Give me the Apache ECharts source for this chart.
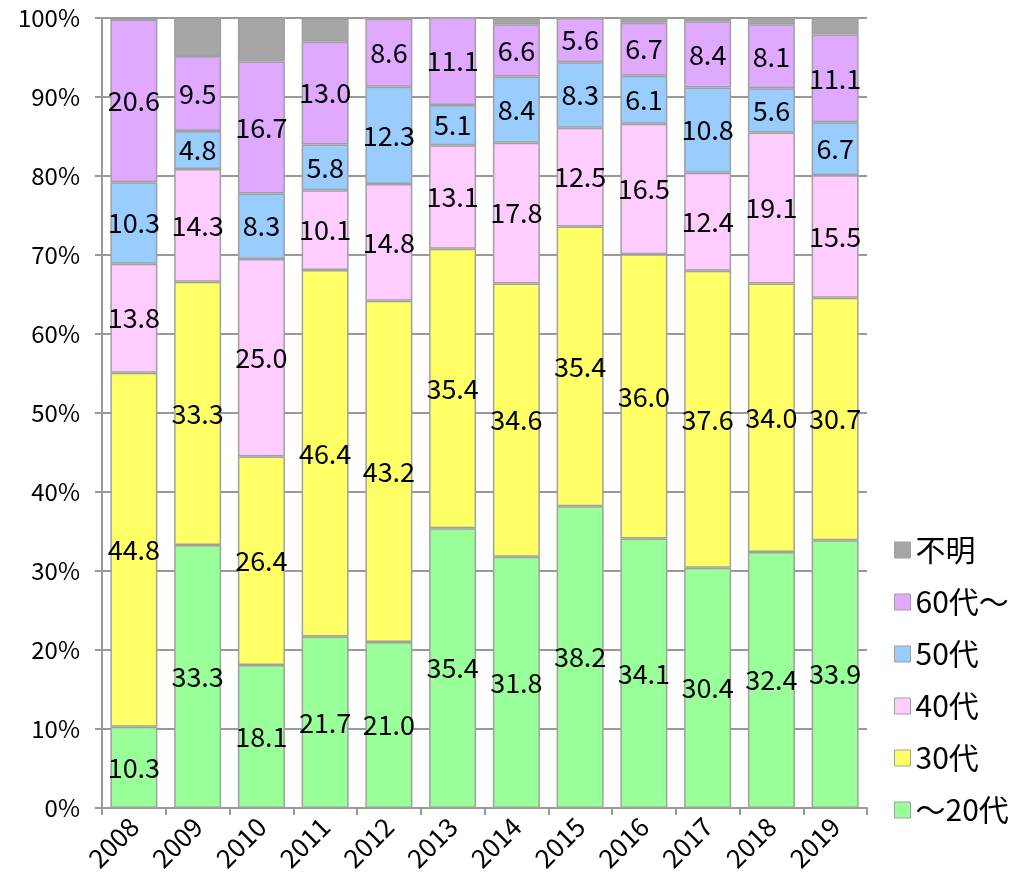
<!DOCTYPE html>
<html><head><meta charset="utf-8">
<script src="https://cdn.jsdelivr.net/npm/echarts@6/dist/echarts.min.js"></script>
<style>html,body{margin:0;padding:0;background:#fff}#c{width:1031px;height:891px}</style>
</head><body><div id="c"></div>
<script>
const years = ['2008','2009','2010','2011','2012','2013','2014','2015','2016','2017','2018','2019'];
const under20 = [10.3,33.3,18.1,21.7,21.0,35.4,31.8,38.2,34.1,30.4,32.4,33.9];
const age30 = [44.8,33.3,26.4,46.4,43.2,35.4,34.6,35.4,36.0,37.6,34.0,30.7];
const age40 = [13.8,14.3,25.0,10.1,14.8,13.1,17.8,12.5,16.5,12.4,19.1,15.5];
const age50 = [10.3,4.8,8.3,5.8,12.3,5.1,8.4,8.3,6.1,10.8,5.6,6.7];
const age60 = [20.6,9.5,16.7,13.0,8.6,11.1,6.6,5.6,6.7,8.4,8.1,11.1];
const unknown = [0,4.8,5.5,2.9,0,0,0.8,0,0.6,0.4,0.8,2.1];
const names = ['～20代','30代','40代','50代','60代～','不明'];
const colors = ['#99FF99','#FFFF66','#FFCCFF','#99CCFF','#DFA9FF','#A6A6A6'];
const FONT = '"Noto Sans CJK JP", "Noto Sans", sans-serif';
const chart = echarts.init(document.getElementById('c'));
const all = [under20, age30, age40, age50, age60, unknown];
const series = all.map((d, i) => ({
  name: names[i], type: 'bar', stack: 'total', data: d, barWidth: 47,
  itemStyle: { color: colors[i], borderColor: '#A0A0A0', borderWidth: 1.5 },
  label: { show: i < 5, position: 'inside', color: '#000', fontSize: 27, fontFamily: FONT,
           formatter: p => p.value.toFixed(1) },
  emphasis: { disabled: true }
}));
chart.setOption({
  animation: false,
  grid: { left: 102, right: 164, top: 18, bottom: 83 },
  legend: {
    orient: 'vertical', left: 889, top: 530, itemGap: 22, itemWidth: 16, itemHeight: 16,
    icon: 'rect',
    data: names.slice().reverse(),
    textStyle: { fontSize: 30, fontFamily: FONT, color: '#000' },
    itemStyle: { borderColor: '#A0A0A0', borderWidth: 1 }
  },
  xAxis: {
    type: 'category', data: years,
    axisLine: { lineStyle: { color: '#999', width: 2 } },
    axisTick: { show: true, length: 7, lineStyle: { color: '#999', width: 2 } },
    axisLabel: { rotate: 45, fontSize: 26, fontFamily: FONT, color: '#000', margin: 14 }
  },
  yAxis: {
    type: 'value', min: 0, max: 100, interval: 10,
    axisLine: { show: true, lineStyle: { color: '#999', width: 2 } },
    axisTick: { show: true, length: 7, lineStyle: { color: '#999', width: 2 } },
    splitLine: { lineStyle: { color: '#999', width: 2 } },
    axisLabel: { formatter: '{value}%', fontSize: 24, fontFamily: FONT, color: '#000', margin: 22 }
  },
  series: series
});
</script></body></html>
